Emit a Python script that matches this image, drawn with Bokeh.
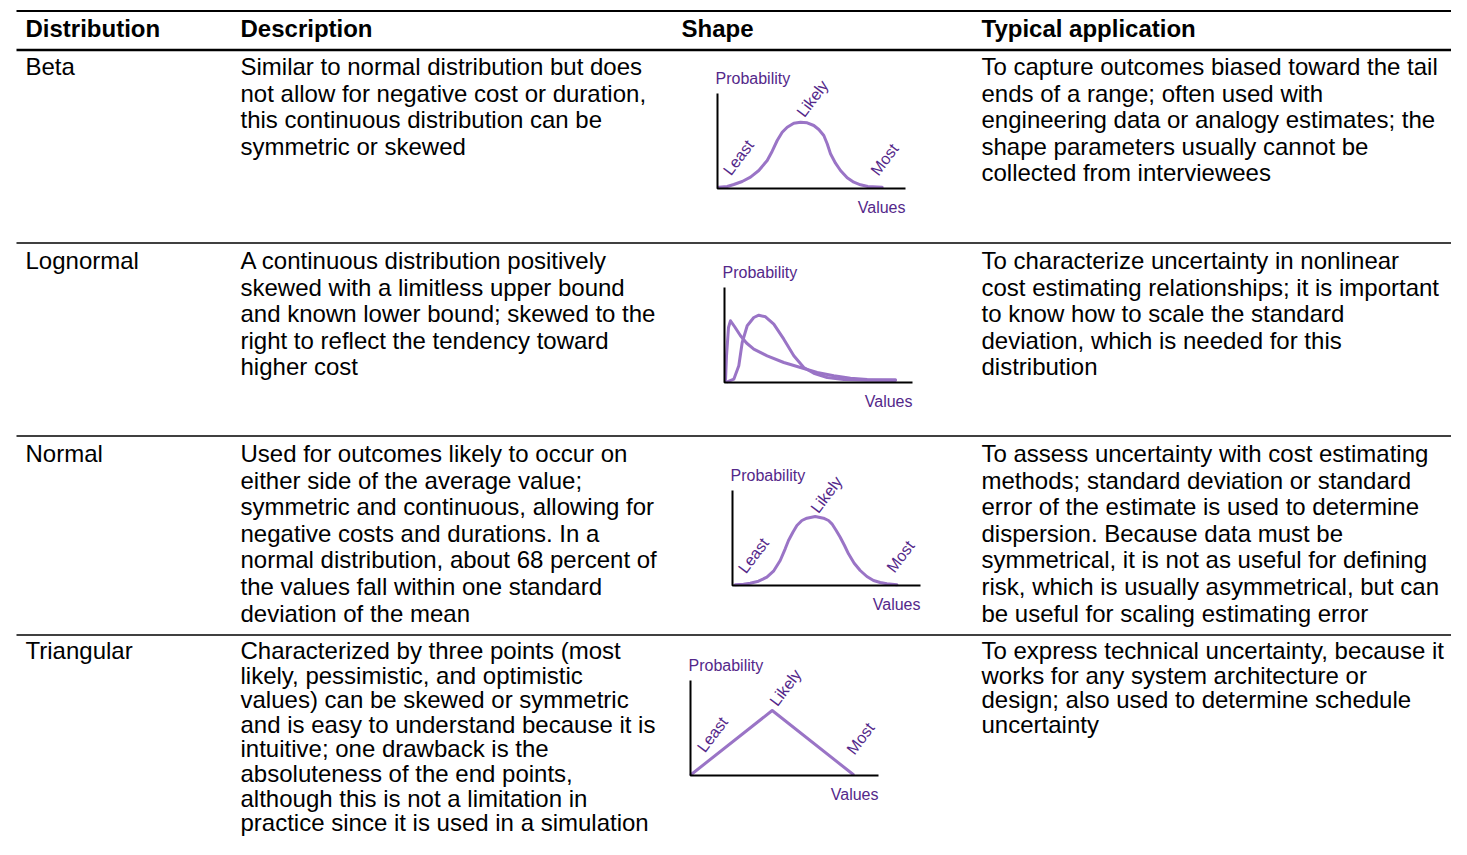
import math
from bokeh.plotting import figure
from bokeh.models import Range1d
from bokeh.core.properties import value
from bokeh.embed import file_html
from bokeh.resources import INLINE

# ---------------- data ----------------
headers = ["Distribution", "Description", "Shape", "Typical application"]
distributions = ["Beta", "Lognormal", "Normal", "Triangular"]

descriptions = [
    ["Similar to normal distribution but does",
     "not allow for negative cost or duration,",
     "this continuous distribution can be",
     "symmetric or skewed"],
    ["A continuous distribution positively",
     "skewed with a limitless upper bound",
     "and known lower bound; skewed to the",
     "right to reflect the tendency toward",
     "higher cost"],
    ["Used for outcomes likely to occur on",
     "either side of the average value;",
     "symmetric and continuous, allowing for",
     "negative costs and durations. In a",
     "normal distribution, about 68 percent of",
     "the values fall within one standard",
     "deviation of the mean"],
    ["Characterized by three points (most",
     "likely, pessimistic, and optimistic",
     "values) can be skewed or symmetric",
     "and is easy to understand because it is",
     "intuitive; one drawback is the",
     "absoluteness of the end points,",
     "although this is not a limitation in",
     "practice since it is used in a simulation"],
]

applications = [
    ["To capture outcomes biased toward the tail",
     "ends of a range; often used with",
     "engineering data or analogy estimates; the",
     "shape parameters usually cannot be",
     "collected from interviewees"],
    ["To characterize uncertainty in nonlinear",
     "cost estimating relationships; it is important",
     "to know how to scale the standard",
     "deviation, which is needed for this",
     "distribution"],
    ["To assess uncertainty with cost estimating",
     "methods; standard deviation or standard",
     "error of the estimate is used to determine",
     "dispersion. Because data must be",
     "symmetrical, it is not as useful for defining",
     "risk, which is usually asymmetrical, but can",
     "be useful for scaling estimating error"],
    ["To express technical uncertainty, because it",
     "works for any system architecture or",
     "design; also used to determine schedule",
     "uncertainty"],
]

# shape curves (x along Values, y along Probability)
beta_x = [1.3, 9.7, 16.3, 24.7, 33, 41.3, 49.7, 54.7, 59.7, 64.7, 69.7, 76.3, 83,
          89.7, 96.3, 101.3, 106.3, 109.7, 113, 118, 123, 129.7, 136.3, 143, 150.3, 164.7]
beta_y = [1.3, 2, 4, 7, 11.3, 18, 28, 37.3, 48, 56.3, 61.3, 65.3, 66.3,
          65.7, 63, 59, 53, 44.7, 34.7, 25.3, 18, 10.7, 6.3, 3.7, 2, 1.3]

logn1_x = [1, 2, 4, 6, 10, 16, 22, 29.3, 42.7, 59.3, 76, 92.7, 109.3, 126, 142.7, 171]
logn1_y = [1.7, 26.7, 55, 61.7, 56, 46.7, 39.5, 33.3, 26.7, 20, 15, 10, 6.7, 4.3, 3, 2.7]

logn2_x = [2.7, 9.3, 14.3, 17.7, 22.7, 29.3, 34.3, 41, 49.3, 59.3, 69.3, 79.3,
           89.3, 102.7, 119.3, 142.7, 171]
logn2_y = [0.7, 3.3, 16.7, 40, 56.7, 65, 67.3, 65.7, 58.3, 43.3, 26.7, 15,
           9.3, 5, 3, 2.3, 2]

normal_x = [2.7, 11, 17.7, 26, 34.4, 41, 47.7, 52.7, 56, 60.4, 64.4, 69.4, 74.4, 82.7,
            91, 96, 99.4, 103.7, 107.7, 112, 116, 121.7, 127.7, 134.4, 141, 147.7, 154.4, 164.4]
normal_y = [0.7, 1.3, 2.3, 4.3, 8.3, 14.3, 25, 36.7, 45, 53.3, 60, 65, 67.3, 69,
            67.3, 65, 61.7, 55, 48.3, 40, 31.7, 22.3, 15, 9, 5, 3, 1.7, 0.7]

tri_x = [0.7, 81.7, 162.7]
tri_y = [1, 65, 1]

shape_curves = [
    [(beta_x, beta_y)],
    [(logn1_x, logn1_y), (logn2_x, logn2_y)],
    [(normal_x, normal_y)],
    [(tri_x, tri_y)],
]
shape_labels = ["Least", "Likely", "Most"]
axis_labels = ["Probability", "Values"]

# ---------------- layout constants ----------------
W, H = 1451, 839
FONT = "Liberation Sans"
BODY = "24px"
HEADER_Y = 28
ROW_LINE = [26.6, 26.6, 26.6, 24.6]
COL_X = [25, 240, 681, 981]
RULE_X0, RULE_X1 = 16, 1457
ROW_RULES = [242.5, 435.5, 634.5]
ROW_FIRST = [66, 260, 453, 650]
ORIG_X = [717, 724, 732, 690]
ORIG_Y = [188, 382, 585, 775]
AX_W, AX_H = 188, 95
LABEL_OFF = [
    [(21, -31), (95, -90), (167, -29)],
    None,
    [(21, -30), (94, -91), (168, -29)],
    [(22, -41), (95, -88), (170, -37)],
]
CURVE_COLOR = "#9a74c6"
TEXT_PURPLE = "#54288a"

p = figure(width=W, height=H, output_backend="svg", toolbar_location=None,
           x_range=Range1d(0, W), y_range=Range1d(H, 0),
           min_border=0, outline_line_color=None)
p.axis.visible = False
p.grid.visible = False
p.background_fill_color = "white"
p.border_fill_color = "white"

# rules
p.segment(x0=[RULE_X0], y0=[10.5], x1=[RULE_X1], y1=[10.5], line_color="black", line_width=2)
p.segment(x0=[RULE_X0], y0=[49.5], x1=[RULE_X1], y1=[49.5], line_color="black", line_width=2.5)
p.segment(x0=[RULE_X0] * 3, y0=ROW_RULES, x1=[RULE_X1] * 3, y1=ROW_RULES,
          line_color="black", line_width=1.5)

# header
p.text(x=COL_X, y=[HEADER_Y] * 4, text=headers, text_font=value(FONT), text_font_size=BODY,
       text_font_style="bold", text_color="black", text_baseline="middle")

# body text
tx, ty, tt = [], [], []
for i, name in enumerate(distributions):
    base = ROW_FIRST[i]
    step = ROW_LINE[i]
    tx.append(COL_X[0]); ty.append(base); tt.append(name)
    for j, ln in enumerate(descriptions[i]):
        tx.append(COL_X[1]); ty.append(base + j * step); tt.append(ln)
    for j, ln in enumerate(applications[i]):
        tx.append(COL_X[3]); ty.append(base + j * step); tt.append(ln)
p.text(x=tx, y=ty, text=tt, text_font=value(FONT), text_font_size=BODY,
       text_color="black", text_baseline="middle")

# shapes
for i in range(4):
    ox, oy = ORIG_X[i], ORIG_Y[i]
    for cx, cy in shape_curves[i]:
        p.line([ox + v for v in cx], [oy - v for v in cy], line_color=CURVE_COLOR,
               line_width=3, line_join="round", line_cap="round")
    # axes
    p.line([ox, ox, ox + AX_W], [oy - AX_H, oy, oy], line_color="black", line_width=2)
    p.text(x=[ox - 2], y=[oy - 110], text=[axis_labels[0]], text_font=value(FONT),
           text_font_size="16px", text_color=TEXT_PURPLE, text_baseline="middle",
           text_align="left")
    p.text(x=[ox + 188], y=[oy + 19], text=[axis_labels[1]], text_font=value(FONT),
           text_font_size="16px", text_color=TEXT_PURPLE, text_baseline="middle",
           text_align="right")
    if LABEL_OFF[i]:
        p.text(x=[ox + d[0] for d in LABEL_OFF[i]], y=[oy + d[1] for d in LABEL_OFF[i]],
               text=shape_labels, angle=math.radians(53), text_font=value(FONT),
               text_font_size="16px", text_color=TEXT_PURPLE, text_baseline="middle",
               text_align="center")

open("out.html", "w").write(file_html(p, INLINE))
